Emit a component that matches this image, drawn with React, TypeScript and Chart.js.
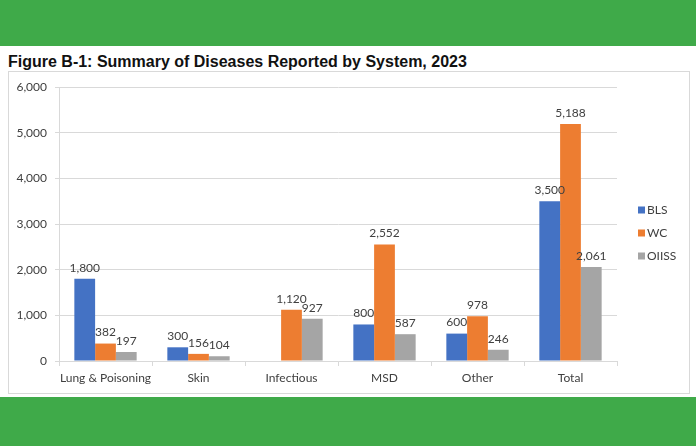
import React, { useEffect, useRef } from "react";
import { Chart, registerables } from "chart.js";

Chart.register(...registerables);

const categories = ["Lung & Poisoning", "Skin", "Infectious", "MSD", "Other", "Total"];
const blsValues = [1800, 300, null, 800, 600, 3500];
const wcValues = [382, 156, 1120, 2552, 978, 5188];
const oiissValues = [197, 104, 927, 587, 246, 2061];
const seriesNames = ["BLS", "WC", "OIISS"];
const seriesColors = ["#4472C4", "#ED7D31", "#A5A5A5"];
const yTicks = [0, 1000, 2000, 3000, 4000, 5000, 6000];

const FONT = "Lato, 'Open Sans', sans-serif";

const fmt = (v: number) => v.toLocaleString("en-US");

const dataLabelPlugin = {
  id: "dataLabels",
  afterDatasetsDraw(chart: any) {
    const ctx = chart.ctx;
    ctx.save();
    ctx.font = `12px ${FONT}`;
    ctx.fillStyle = "#404040";
    ctx.textAlign = "center";
    ctx.textBaseline = "bottom";
    chart.data.datasets.forEach((ds: any, i: number) => {
      const meta = chart.getDatasetMeta(i);
      meta.data.forEach((el: any, j: number) => {
        const v = ds.data[j];
        if (v == null) return;
        ctx.fillText(fmt(v), el.x, el.y - 5);
      });
    });
    ctx.restore();
  },
};

const legendPlugin = {
  id: "customLegend",
  afterDraw(chart: any) {
    const ctx = chart.ctx;
    const area = chart.chartArea;
    ctx.save();
    ctx.font = `12px ${FONT}`;
    ctx.textAlign = "left";
    ctx.textBaseline = "middle";
    chart.data.datasets.forEach((ds: any, i: number) => {
      const x = area.right + 21;
      const y = 138 + i * 23;
      ctx.fillStyle = ds.backgroundColor;
      ctx.fillRect(x, y - 3.5, 7, 7);
      ctx.fillStyle = "#404040";
      ctx.fillText(ds.label, x + 9, y);
    });
    ctx.restore();
  },
};

export default function App() {
  const ref = useRef<HTMLCanvasElement>(null);
  useEffect(() => {
    if (!ref.current) return;
    const chart = new Chart(ref.current, {
      type: "bar",
      data: {
        labels: categories,
        datasets: [blsValues, wcValues, oiissValues].map((d, i) => ({
          label: seriesNames[i],
          data: d as any,
          backgroundColor: seriesColors[i],
          categoryPercentage: 0.67,
          barPercentage: 1,
        })),
      },
      options: {
        animation: false,
        responsive: false,
        layout: { padding: { top: 15, right: 71, left: 0, bottom: 0 } },
        plugins: { legend: { display: false }, tooltip: { enabled: false } },
        scales: {
          x: {
            grid: {
              offset: true,
              drawOnChartArea: false,
              drawTicks: true,
              tickLength: 5,
              color: "#D9D9D9",
            },
            border: { display: true, color: "#D9D9D9" },
            ticks: {
              font: { family: FONT, size: 12 },
              color: "#404040",
              padding: 5,
              maxRotation: 0,
              minRotation: 0,
              autoSkip: false,
            },
            afterFit: (s: any) => {
              s.height = 31;
              s.paddingLeft = 0;
              s.paddingRight = 0;
            },
          },
          y: {
            min: 0,
            max: 6000,
            afterBuildTicks: (s: any) => {
              s.ticks = yTicks.map((v) => ({ value: v }));
            },
            grid: { color: "#D9D9D9", drawTicks: true, tickLength: 4 },
            border: { display: true, color: "#D9D9D9" },
            ticks: {
              font: { family: FONT, size: 12 },
              color: "#404040",
              padding: 8,
              callback: (v: any) => fmt(Number(v)),
            },
            afterFit: (s: any) => {
              s.width = 50;
              s.paddingTop = 0;
              s.paddingBottom = 0;
            },
          },
        },
      },
      plugins: [dataLabelPlugin, legendPlugin],
    });
    return () => chart.destroy();
  }, []);

  return (
    <div
      style={{
        position: "fixed",
        left: 0,
        top: 0,
        width: 696,
        height: 446,
        background: "#fff",
        overflow: "hidden",
      }}
    >
      <div style={{ position: "absolute", left: 0, top: 0, width: 696, height: 46, background: "#3FAA49" }} />
      <div
        style={{
          position: "absolute",
          left: 8,
          top: 53,
          fontFamily: "'Liberation Sans', Arial, sans-serif",
          fontWeight: "bold",
          fontSize: 16,
          color: "#111",
          whiteSpace: "nowrap",
        }}
      >
        Figure B-1: Summary of Diseases Reported by System, 2023
      </div>
      <div
        style={{
          position: "absolute",
          left: 8,
          top: 71,
          width: 682,
          height: 323,
          border: "1px solid #D9D9D9",
          boxSizing: "border-box",
        }}
      />
      <canvas
        ref={ref}
        width={679}
        height={320}
        style={{ position: "absolute", left: 9, top: 72, width: 679, height: 320 }}
      />
      <div style={{ position: "absolute", left: 0, top: 397, width: 696, height: 49, background: "#3FAA49" }} />
    </div>
  );
}
